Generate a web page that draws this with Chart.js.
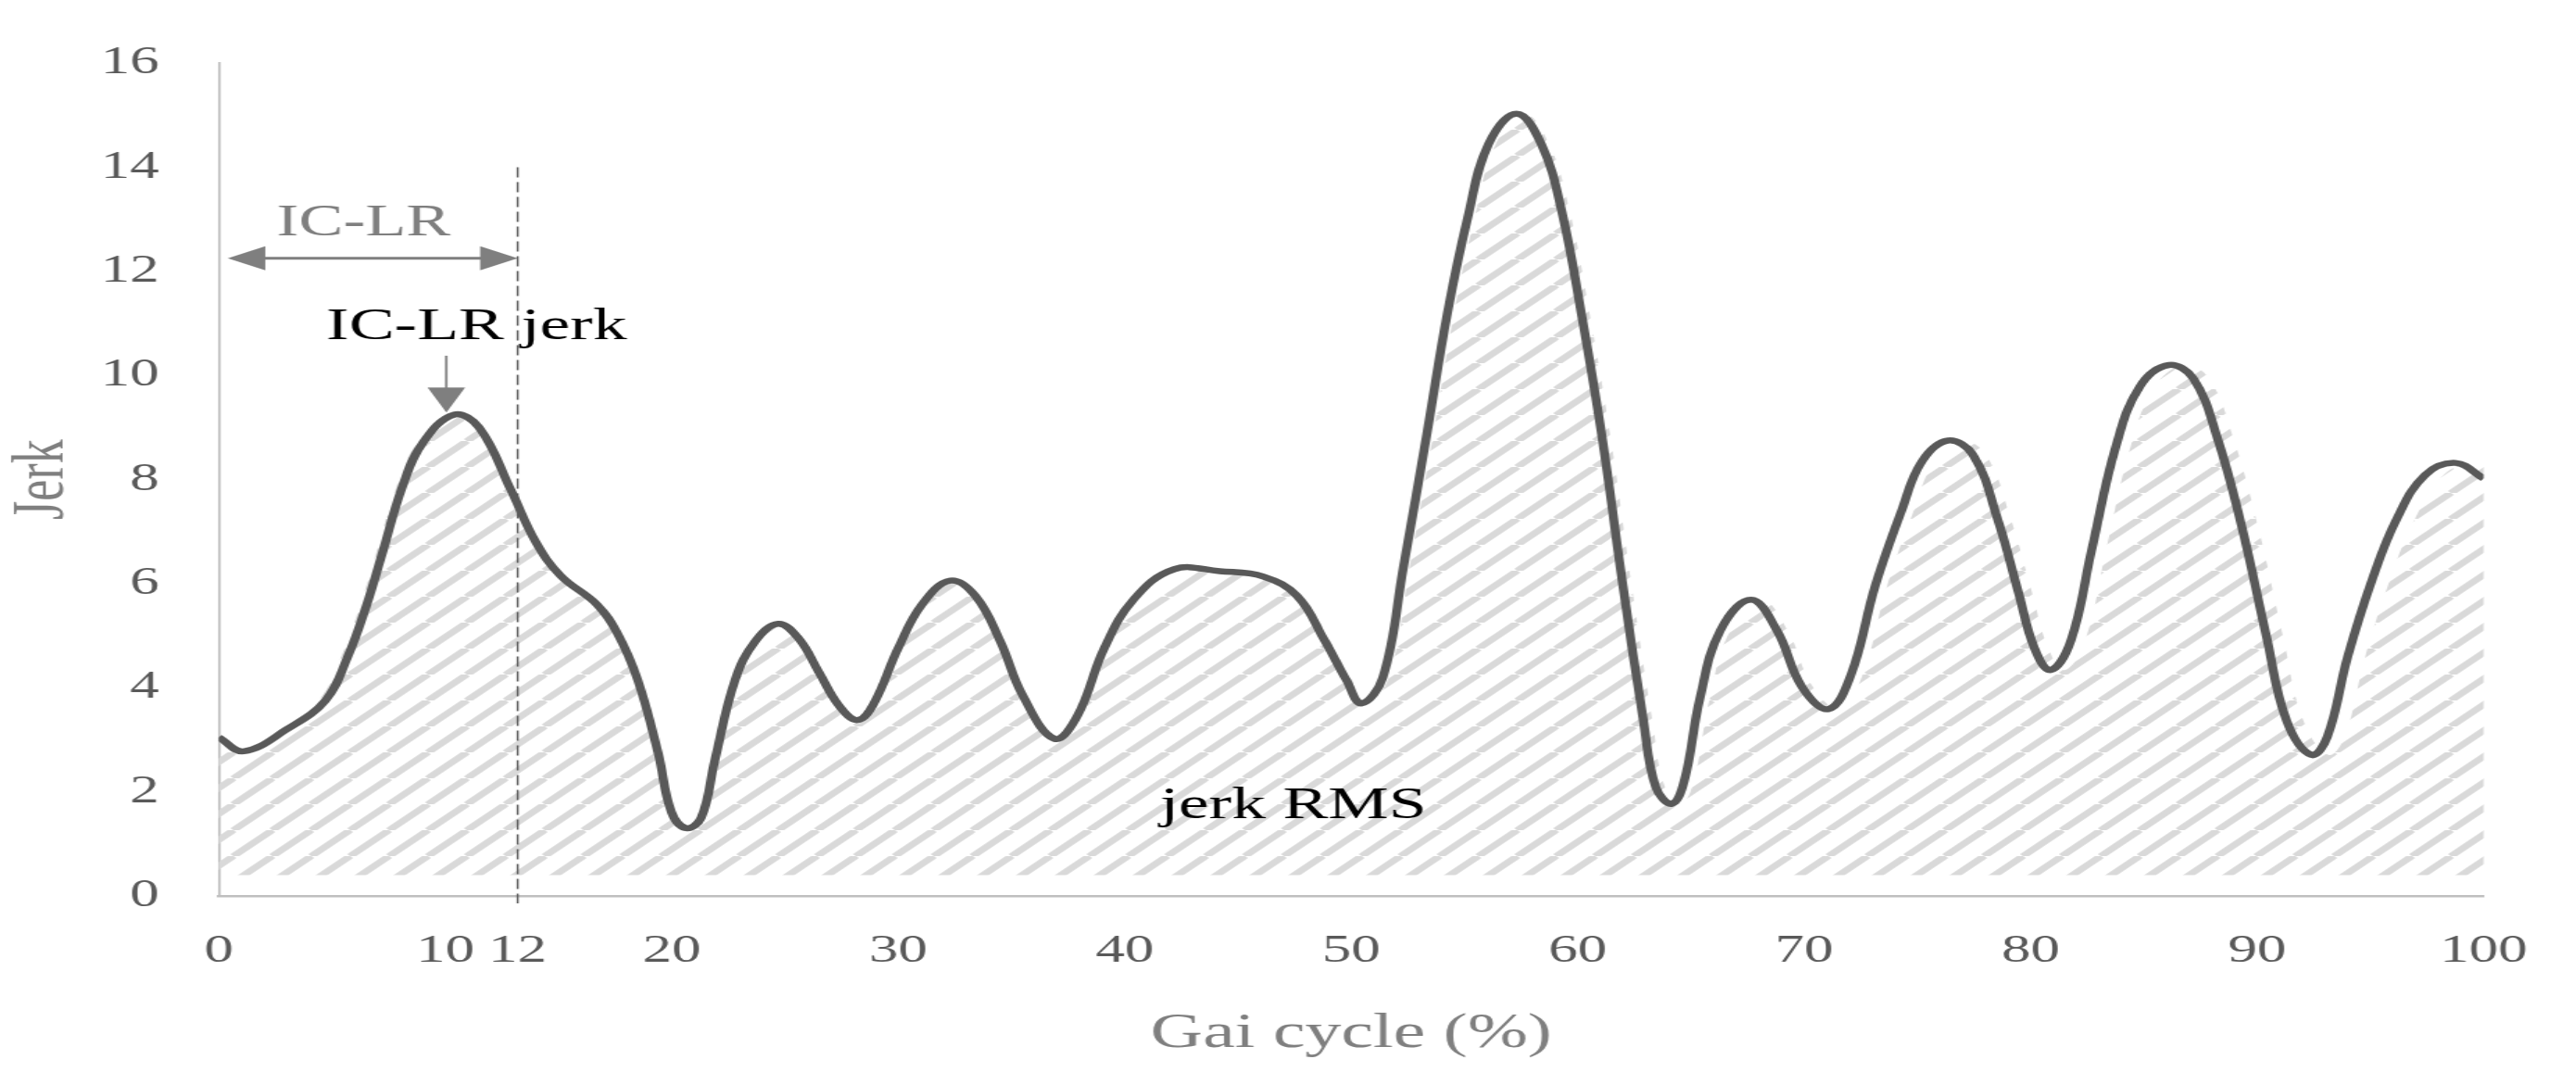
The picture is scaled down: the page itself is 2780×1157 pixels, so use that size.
<!DOCTYPE html>
<html>
<head>
<meta charset="utf-8">
<title>Jerk over the gait cycle</title>
<script src="https://cdn.jsdelivr.net/npm/chart.js@4.4.0/dist/chart.umd.min.js"></script>
<style>
  html, body { margin: 0; padding: 0; background: #fff; overflow: hidden; }
  /* the source figure is stretched sideways ~1.5x, so the chart is drawn narrow and widened */
  #wrap {
    width: 1854px; height: 1157px;
    transform: scaleX(1.49946); transform-origin: 0 0;
  }
</style>
</head>
<body>
<div id="wrap"><canvas id="chart"></canvas></div>
<script>
// ── DATA ─────────────────────────────────────────────────
const gaitPct = [
  0, 1.1, 3.0, 4.7, 5.7, 6.5, 7.2, 8.1, 9.0, 10.4, 11.5, 12.9, 14.0, 15.1, 16.7, 17.6, 18.5, 19.4,
  20.0, 20.65, 21.3, 21.9, 22.8, 23.7, 24.7, 25.6, 26.5, 27.4, 28.2, 28.9, 30.0, 31.05, 32.3,
  33.4, 34.5, 35.5, 36.9, 37.9, 39.1, 40.4, 42.2, 44.2, 46.1, 47.6, 48.8, 49.8, 50.45, 51.4,
  52.3, 53.35, 54.25, 55.15, 56.06, 57.3, 58.4, 59.3, 60.2, 61.1, 62.0, 62.9, 63.45, 64.15,
  64.7, 65.4, 66.3, 67.65, 68.8, 69.9, 71.07, 72.06, 73.14, 74.3, 75.2, 76.35, 77.45, 78.54,
  79.45, 80.17, 80.88, 81.78, 82.68, 83.76, 84.84, 86.1, 87.17, 88.25, 89.33, 90.41, 91.3,
  92.39, 93.1, 94.0, 95.08, 96.16, 97.42, 98.77, 100
];
const jerkRms = [
  3.05, 2.78, 3.2, 3.75, 4.6, 5.55, 6.55, 7.85, 8.7, 9.25, 9.0, 7.8, 6.8, 6.15, 5.6, 5.05, 4.15, 2.75,
  1.6, 1.3, 1.5, 2.6, 4.15, 4.9, 5.23, 4.95, 4.3, 3.65, 3.38, 3.68, 4.76, 5.6, 6.06,
  5.77, 4.9, 3.85, 3.02, 3.45, 4.76, 5.7, 6.28, 6.24, 6.14, 5.77, 4.93, 4.14, 3.7, 4.2,
  6.3, 8.9, 11.2, 13.04, 14.44, 15.03, 14.44, 13.15, 11.1, 8.75, 5.96, 3.38, 2.09, 1.77,
  2.2, 3.8, 5.1, 5.69, 5.1, 4.02, 3.59, 4.24, 5.96, 7.4, 8.35, 8.75, 8.48, 7.24,
  5.85, 4.76, 4.34, 4.91, 6.62, 8.63, 9.8, 10.2, 9.95, 8.79, 7.08, 4.99, 3.37,
  2.71, 3.06, 4.6, 6.08, 7.24, 8.09, 8.32, 8.02
];
const xTickValues = [0, 10, 20, 30, 40, 50, 60, 70, 80, 90, 100];
const yTickStep = 2;
const yMax = 16;

// IC-LR window (the dashed line sits a bit right of 12 in the source)
const icLrEnd = 13.2;
const icLrTickLabel = '12';

// the hatched area is drawn as its own series, slightly wider than the line
const areaStart = -0.36;
const areaEnd = 100.85;
const areaBase = 0.4;

// ── STYLE ────────────────────────────────────────────────
const SERIF = "'Liberation Serif', 'Times New Roman', serif";
Chart.defaults.font.family = SERIF;
Chart.defaults.color = '#595959';

function makeHatch() {
  const s = 28;
  const c = document.createElement('canvas');
  c.width = s; c.height = s;
  const g = c.getContext('2d');
  g.strokeStyle = '#d9d9d9';
  g.lineWidth = 6;
  [-s, 0, s].forEach(dx => {
    g.beginPath();
    g.moveTo(dx, s);
    g.lineTo(dx + s, 0);
    g.stroke();
  });
  return g.createPattern(c, 'repeat');
}

function arrowHead(ctx, tipX, tipY, dir, len, half) {
  // dir: 'left' | 'right' | 'down'
  ctx.beginPath();
  ctx.moveTo(tipX, tipY);
  if (dir === 'left') { ctx.lineTo(tipX + len, tipY - half); ctx.lineTo(tipX + len, tipY + half); }
  if (dir === 'right') { ctx.lineTo(tipX - len, tipY - half); ctx.lineTo(tipX - len, tipY + half); }
  if (dir === 'down') { ctx.lineTo(tipX - half, tipY - len); ctx.lineTo(tipX + half, tipY - len); }
  ctx.closePath();
  ctx.fill();
}

// ── ANNOTATIONS ──────────────────────────────────────────
const annotations = {
  id: 'annotations',
  beforeDatasetDraw(chart, args) {
    if (args.index !== 0) return;
    const { ctx, chartArea, scales: { x, y } } = chart;
    const px = x.getPixelForValue(icLrEnd);
    ctx.save();
    ctx.strokeStyle = '#595959';
    ctx.lineWidth = 1.4;
    ctx.setLineDash([11, 5]);
    ctx.beginPath();
    ctx.moveTo(px, y.getPixelForValue(14));
    ctx.lineTo(px, chartArea.bottom + 8);
    ctx.stroke();
    ctx.restore();
  },
  afterDatasetsDraw(chart) {
    const { ctx, scales: { x, y } } = chart;
    ctx.save();

    // IC-LR span arrow
    const ay = y.getPixelForValue(12.25);
    const ax0 = x.getPixelForValue(0.4);
    const ax1 = x.getPixelForValue(icLrEnd);
    ctx.strokeStyle = '#7f7f7f';
    ctx.fillStyle = '#7f7f7f';
    ctx.lineWidth = 3;
    ctx.beginPath();
    ctx.moveTo(ax0 + 20, ay);
    ctx.lineTo(ax1 - 20, ay);
    ctx.stroke();
    arrowHead(ctx, ax0, ay, 'left', 27, 13);
    arrowHead(ctx, ax1, ay, 'right', 27, 13);

    ctx.font = `48px ${SERIF}`;
    ctx.textAlign = 'center';
    ctx.textBaseline = 'alphabetic';
    ctx.fillText('IC-LR', x.getPixelForValue(6.4), y.getPixelForValue(12.7));

    // IC-LR jerk pointer
    const dx = x.getPixelForValue(10.05);
    const dTop = y.getPixelForValue(10.38);
    const dTip = y.getPixelForValue(9.29);
    ctx.lineWidth = 1.8;
    ctx.beginPath();
    ctx.moveTo(dx, dTop);
    ctx.lineTo(dx, dTip - 20);
    ctx.stroke();
    arrowHead(ctx, dx, dTip, 'down', 27, 13.5);

    ctx.fillStyle = '#000';
    ctx.font = `49px ${SERIF}`;
    ctx.textAlign = 'left';
    ctx.fillText('IC-LR jerk', x.getPixelForValue(4.75), y.getPixelForValue(10.7));
    ctx.fillText('jerk RMS', x.getPixelForValue(41.55), y.getPixelForValue(1.5));

    ctx.restore();
  }
};

// ── CHART ────────────────────────────────────────────────
const linePoints = gaitPct.map((g, i) => ({ x: g, y: jerkRms[i] }));
const areaPoints = gaitPct.map((g, i) => ({ x: areaStart + g * (areaEnd - areaStart) / 100, y: jerkRms[i] }));

new Chart(document.getElementById('chart'), {
  type: 'line',
  data: {
    datasets: [
      {
        label: 'jerk',
        data: linePoints,
        borderColor: '#595959',
        borderWidth: 6.5,
        pointRadius: 0,
        tension: 0.4,
        fill: false
      },
      {
        label: 'jerk RMS',
        data: areaPoints,
        borderWidth: 0,
        borderColor: 'rgba(0,0,0,0)',
        backgroundColor: makeHatch(),
        pointRadius: 0,
        tension: 0.4,
        fill: { value: areaBase },
        clip: false
      }
    ]
  },
  options: {
    responsive: true,
    maintainAspectRatio: false,
    animation: false,
    layout: { padding: { top: 45, right: 40, bottom: 0, left: 0 } },
    plugins: { legend: { display: false }, tooltip: { enabled: false } },
    scales: {
      x: {
        type: 'linear',
        min: 0, max: 100,
        afterFit: s => { s.height = 190; },
        afterBuildTicks: s => {
          s.ticks = [...xTickValues, icLrEnd].sort((a, b) => a - b).map(v => ({ value: v }));
        },
        grid: { display: false, drawTicks: false },
        border: { display: true, color: '#bfbfbf', width: 2.5 },
        ticks: {
          autoSkip: false, maxRotation: 0, padding: 35,
          font: { size: 42 }, color: '#595959',
          callback: v => (v === icLrEnd ? icLrTickLabel : v)
        },
        title: {
          display: true, text: 'Gai cycle (%)', color: '#7f7f7f',
          font: { size: 52 }, padding: { top: 0, bottom: 9 }
        }
      },
      y: {
        min: 0, max: yMax,
        afterFit: s => { s.width = 157.4; },
        grid: { display: false, drawTicks: false },
        border: { display: true, color: '#bfbfbf', width: 1.7 },
        ticks: { stepSize: yTickStep, padding: 43, font: { size: 42 }, color: '#595959' },
        title: {
          display: true, text: 'Jerk', color: '#7f7f7f',
          font: { size: 52 }, padding: { top: 0, bottom: 0 }
        }
      }
    }
  },
  plugins: [annotations]
});
</script>
</body>
</html>
